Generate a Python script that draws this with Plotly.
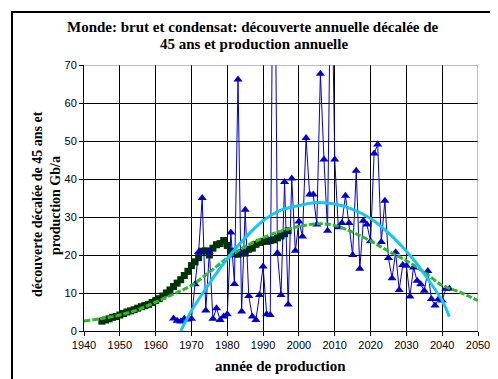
import plotly.graph_objects as go

# Production annuelle (Gb/a)
prod_years = list(range(1945, 1998))
prod_values = [2.6, 2.9, 3.2, 3.6, 3.8, 4.2, 4.6, 5.0, 5.3, 5.6,
               6.0, 6.4, 6.7, 7.0, 7.5, 8.0, 8.5, 9.2, 10.0, 10.8,
               11.7, 12.6, 13.5, 14.6, 15.7, 17.2, 18.2, 19.3, 21.0, 21.1,
               20.0, 21.8, 22.7, 23.0, 23.8, 22.5, 21.0, 20.3, 20.2, 20.6,
               20.5, 21.5, 21.8, 22.8, 23.3, 23.6, 23.6, 23.8, 24.0, 24.5,
               25.0, 25.6, 26.4]

# Découverte décalée de 45 ans (Gb/a)
disc_years = list(range(1965, 2043))
disc_values = [3.3, 2.7, 2.5, 3.2, 3.0, 3.2, 12.3, 20.8, 35.0, 5.4,
               20.9, 3.2, 6.0, 2.9, 3.8, 4.4, 25.9, 12.4, 66.2, 5.1,
               31.9, 9.2, 3.8, 2.9, 9.5, 17.0, 4.4, 4.2, 140.0, 20.5,
               9.5, 39.2, 7.0, 40.1, 21.1, 28.8, 24.9, 50.8, 35.9, 35.9,
               28.0, 67.7, 45.1, 26.4, 107.0, 45.1, 27.3, 28.4, 35.6, 28.4,
               20.0, 42.2, 16.4, 29.0, 28.0, 23.6, 46.7, 49.1, 23.4, 34.3,
               19.2, 13.9, 20.7, 10.8, 17.4, 17.2, 9.1, 16.7, 13.2, 12.3,
               10.6, 15.8, 8.4, 6.7, 8.4, 8.0, 11.1, 11.1]

# Tendance production (courbe verte)
trend_years = [1940, 1945, 1950, 1955, 1960, 1965, 1970, 1975, 1980, 1985,
               1990, 1995, 2000, 2005, 2010, 2015, 2020, 2025, 2030, 2035,
               2040, 2045, 2050]
trend_values = [2.6, 3.3, 4.2, 5.6, 7.6, 9.7, 12.0, 15.5, 19.2, 22.2,
                24.5, 26.3, 27.5, 28.2, 27.8, 26.0, 23.7, 21.0, 18.5, 15.5,
                12.0, 10.2, 8.0]

# Tendance découverte (courbe cyan)
fit_years = [1967, 1970, 1975, 1980, 1985, 1990, 1995, 2000, 2005, 2010,
             2015, 2020, 2025, 2030, 2032, 2035, 2040, 2042]
fit_values = [0.0, 5.3, 12.5, 19.0, 24.5, 29.0, 31.8, 33.0, 33.8, 33.4,
              32.0, 29.6, 25.8, 21.0, 18.8, 15.0, 8.0, 3.8]

x_ticks = list(range(1940, 2051, 10))
y_ticks = list(range(0, 71, 10))

title_lines = ["Monde: brut et condensat: découverte annuelle décalée de",
               "45 ans et production annuelle"]
ytitle_lines = ["découverte décalée de 45 ans et", "production Gb/a"]
xtitle = "année de production"

fig = go.Figure()

fig.add_trace(go.Scatter(
    x=prod_years, y=prod_values, mode="markers",
    marker=dict(symbol="square", size=7, color="#003300"),
    showlegend=False))

fig.add_trace(go.Scatter(
    x=disc_years, y=disc_values, mode="lines+markers",
    line=dict(color="#0000CC", width=1),
    marker=dict(symbol="triangle-up", size=8, color="#0000CC"),
    showlegend=False))

fig.add_trace(go.Scatter(
    x=trend_years, y=trend_values, mode="lines",
    line=dict(color="#2DB82D", width=3, dash="6px,2px", shape="spline", smoothing=1.0),
    showlegend=False))

fig.add_trace(go.Scatter(
    x=fit_years, y=fit_values, mode="lines",
    line=dict(color="#14C8F5", width=3, shape="spline", smoothing=0.7),
    showlegend=False))

L, R, T, B = 76, 28, 57, 56
W, H = 498, 379
pw, ph = W - L - R, H - T - B

def px(p):
    return (p - L) / pw

def py(q):
    return (H - B - q) / ph

shapes = [
    dict(type="line", xref="x", yref="y", x0=1940, x1=2050, y0=70, y1=70,
         line=dict(color="#808080", width=1)),
    dict(type="line", xref="x", yref="y", x0=2050, x1=2050, y0=0, y1=70,
         line=dict(color="#808080", width=1)),
    dict(type="rect", xref="paper", yref="paper", x0=px(4), x1=px(493),
         y0=py(374), y1=py(4), line=dict(color="black", width=2), layer="below"),
]

tfont = dict(family="Liberation Serif", size=15, color="black")
yfont = dict(family="Liberation Serif", size=14, color="black")
annotations = [
    dict(text="<b>" + title_lines[0] + "</b>", xref="paper", yref="paper",
         x=px(245), y=py(19), xanchor="center", yanchor="middle", showarrow=False, font=tfont),
    dict(text="<b>" + title_lines[1] + "</b>", xref="paper", yref="paper",
         x=px(246), y=py(36), xanchor="center", yanchor="middle", showarrow=False, font=tfont),
    dict(text="<b>" + ytitle_lines[0] + "</b>", xref="paper", yref="paper",
         x=px(30), y=py(196), xanchor="center", yanchor="middle", showarrow=False,
         textangle=-90, font=yfont),
    dict(text="<b>" + ytitle_lines[1] + "</b>", xref="paper", yref="paper",
         x=px(47), y=py(198), xanchor="center", yanchor="middle", showarrow=False,
         textangle=-90, font=yfont),
    dict(text="<b>" + xtitle + "</b>", xref="paper", yref="paper",
         x=px(272), y=py(358), xanchor="center", yanchor="middle", showarrow=False, font=tfont),
]

fig.update_layout(
    width=W, height=H,
    margin=dict(l=L, r=R, t=T, b=B),
    paper_bgcolor="white", plot_bgcolor="white",
    shapes=shapes,
    annotations=annotations,
    xaxis=dict(
        range=[1940, 2050], tickvals=x_ticks, ticktext=[str(v) for v in x_ticks],
        showgrid=True, gridcolor="black", gridwidth=1,
        showline=True, linecolor="black", linewidth=1,
        ticks="outside", ticklen=4, tickcolor="black",
        tickfont=dict(family="Liberation Sans", size=11, color="black"),
        zeroline=False),
    yaxis=dict(
        range=[0, 70], tickvals=y_ticks, ticktext=[str(v) for v in y_ticks],
        showgrid=True, gridcolor="black", gridwidth=1,
        showline=True, linecolor="black", linewidth=1,
        ticks="outside", ticklen=4, tickcolor="black",
        tickfont=dict(family="Liberation Sans", size=11, color="black"),
        zeroline=False),
)

fig.write_html("out.html")
